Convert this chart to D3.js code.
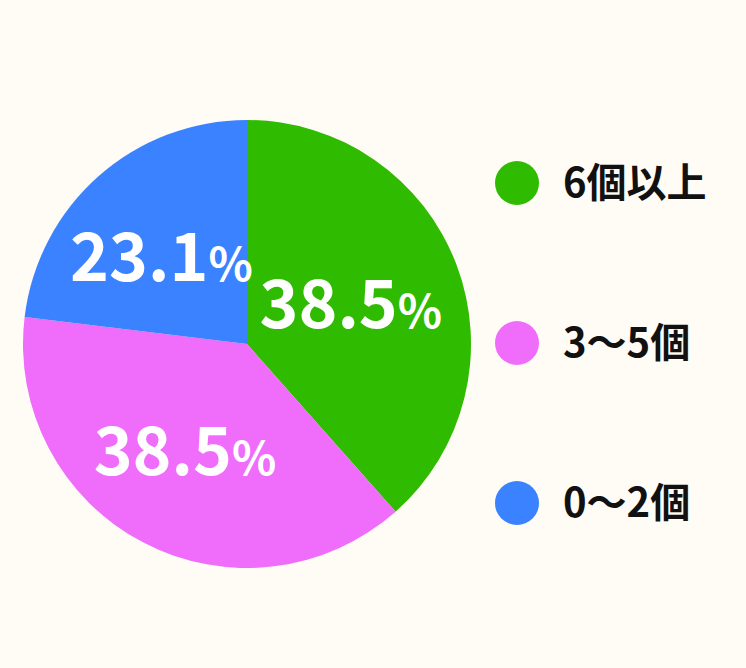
<!DOCTYPE html>
<html>
<head>
<meta charset="utf-8">
<script src="https://cdn.jsdelivr.net/npm/d3@7"></script>
<style>
  html, body { margin: 0; padding: 0; background: #fffbf5; }
  svg { display: block; }
  text { font-family: "Noto Sans CJK JP", "Noto Sans", sans-serif; font-weight: 700; }
</style>
</head>
<body>
<svg id="chart" width="746" height="668"></svg>
<script>
const categories = ["6個以上", "3〜5個", "0〜2個"];
const counts = [5, 5, 3];
const percentLabels = ["38.5", "38.5", "23.1"];
const colors = ["#2ebb00", "#f06cfb", "#3a82ff"];

const W = 746, H = 668;
const cx = 247, cy = 344, R = 224;

const svg = d3.select("#chart");
svg.append("rect").attr("width", W).attr("height", H).attr("fill", "#fffbf5");

const data = categories.map((c, i) => ({ cat: c, value: counts[i], label: percentLabels[i], color: colors[i] }));

const pie = d3.pie().value(d => d.value).sort(null);
const arc = d3.arc().innerRadius(0).outerRadius(R);
const labelArc = d3.arc().innerRadius(237).outerRadius(0);

const g = svg.append("g").attr("transform", `translate(${cx},${cy})`);
const arcs = pie(data);

g.selectAll("path.slice").data(arcs).enter().append("path")
  .attr("class", "slice")
  .attr("d", arc)
  .attr("fill", d => d.data.color);

const lbl = g.selectAll("text.pct").data(arcs).enter().append("text")
  .attr("class", "pct")
  .attr("transform", d => { const c = labelArc.centroid(d); return `translate(${c[0]},${c[1]})`; })
  .attr("text-anchor", "middle")
  .attr("x", -7)
  .attr("y", 26)
  .attr("fill", "#ffffff");
lbl.append("tspan").attr("font-size", 66).text(d => d.data.label);
lbl.append("tspan").attr("font-size", 46).text("%");

// legend
const legendY = d3.scalePoint().domain(categories).range([183, 503]);
const lg = svg.append("g");
const items = lg.selectAll("g.item").data(data).enter().append("g")
  .attr("class", "item")
  .attr("transform", d => `translate(517,${legendY(d.cat)})`);
items.append("circle").attr("r", 22).attr("fill", d => d.color);
items.append("text")
  .attr("x", 46)
  .attr("dy", "0.36em")
  .attr("font-size", 40)
  .attr("fill", "#111111")
  .text(d => d.cat);
</script>
</body>
</html>
